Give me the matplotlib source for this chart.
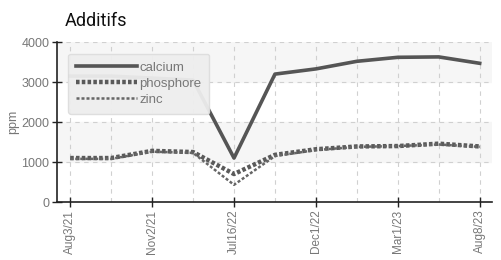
import matplotlib.pyplot as plt

dates = ["Aug3/21", "Sep/21", "Nov2/21", "Feb/22", "Jul16/22", "Sep/22",
         "Dec1/22", "Jan/23", "Mar1/23", "May/23", "Aug8/23"]
calcium = [3150, 3150, 3100, 3050, 1100, 3200, 3330, 3520, 3620, 3630, 3470]
phosphore = [1100, 1100, 1280, 1250, 700, 1180, 1320, 1390, 1400, 1460, 1390]
zinc = [1080, 1080, 1260, 1230, 430, 1150, 1300, 1380, 1400, 1440, 1380]
label_every = 2

FONT = ["Liberation Sans", "DejaVu Sans"]
GREY = "#777777"

fig = plt.figure(figsize=(5.01, 2.6), dpi=100)
ax = fig.add_axes([0.114, 0.223, 0.868, 0.615])

x = list(range(len(dates)))
for lo in (1000, 3000):
    ax.axhspan(lo, lo + 1000, color="#f6f6f6", zorder=0)

ax.plot(x, calcium, color="#555555", lw=2.6, label="calcium", zorder=3)
ax.plot(x, phosphore, color="#5a5a5a", lw=3.2, ls=(0, (0.8, 0.5)), label="phosphore", zorder=3)
ax.plot(x, zinc, color="#666666", lw=1.8, ls=(0, (1.2, 0.8)), label="zinc", zorder=3)

ax.set_xlim(-0.32, 10.3)
ax.set_ylim(0, 4000)
ax.set_yticks([0, 1000, 2000, 3000, 4000])
ax.set_xticks(x[::label_every])
ax.set_xticklabels(dates[::label_every], rotation=90, family=FONT, fontsize=8.5, color=GREY)
for lab in ax.get_yticklabels():
    lab.set_family(FONT)
    lab.set_fontsize(9)
    lab.set_color(GREY)
ax.set_xticks(x, minor=True)
ax.tick_params(axis="x", which="minor", length=0)
ax.tick_params(which="major", direction="inout", length=7, width=1, color="#222222", pad=2)

ax.grid(True, which="both", ls=(0, (4, 4)), color="#d0d0d0", lw=0.8)
ax.set_axisbelow(True)
for side in ("top", "right"):
    ax.spines[side].set_visible(False)
for side in ("left", "bottom"):
    ax.spines[side].set_color("#222222")
    ax.spines[side].set_linewidth(1.2)

ax.set_ylabel("ppm", family=FONT, fontsize=9, color=GREY, labelpad=2)
fig.text(0.13, 0.90, "Additifs", fontsize=13, family=["Roboto", "DejaVu Sans"], color="#111111")

leg = ax.legend(loc="upper left", bbox_to_anchor=(0.01, 0.97), handlelength=4.6,
                handletextpad=0.2, labelspacing=0.3, borderpad=0.6, fancybox=True,
                facecolor="#eeeeee", edgecolor="#dddddd", framealpha=0.95,
                prop={"family": FONT, "size": 9.5})
leg.set_zorder(5)
for t in leg.get_texts():
    t.set_color(GREY)

fig.savefig("out.png", dpi=100)
